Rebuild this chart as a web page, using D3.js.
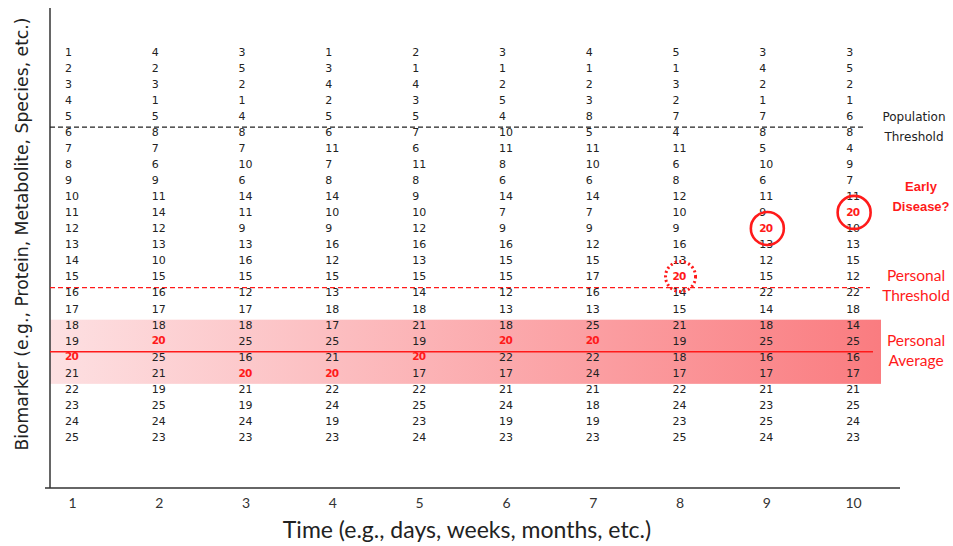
<!DOCTYPE html>
<html><head><meta charset="utf-8">
<script src="https://cdn.jsdelivr.net/npm/d3@7"></script>
<style>html,body{margin:0;padding:0;background:#fff;}</style>
</head><body>
<svg id="chart" width="953" height="546"></svg>
<script>
// ---- data ----
const timePoints = [1,2,3,4,5,6,7,8,9,10];
const col1  = [1,2,3,4,5,6,7,8,9,10,11,12,13,14,15,16,17,18,19,20,21,22,23,24,25];
const col2  = [4,2,3,1,5,8,7,6,9,11,14,12,13,10,15,16,17,18,20,25,21,19,25,24,23];
const col3  = [3,5,2,1,4,8,7,10,6,14,11,9,13,16,15,12,17,18,25,16,20,21,19,24,23];
const col4  = [1,3,4,2,5,6,11,7,8,14,10,9,16,12,15,13,18,17,25,21,20,22,24,19,23];
const col5  = [2,1,4,3,5,7,6,11,8,9,10,12,16,13,15,14,18,21,19,20,17,22,25,23,24];
const col6  = [3,1,2,5,4,10,11,8,6,14,7,9,16,15,15,12,13,18,20,22,17,21,24,19,23];
const col7  = [4,1,2,3,8,5,11,10,6,14,7,9,12,15,17,16,13,25,20,22,24,21,18,19,23];
const col8  = [5,1,3,2,7,4,11,6,8,12,10,9,16,13,20,14,15,21,19,18,17,22,24,23,25];
const col9  = [3,4,2,1,7,8,5,10,6,11,9,20,13,12,15,22,14,18,25,16,17,21,23,25,24];
const col10 = [3,5,2,1,6,8,4,9,7,11,20,10,13,15,12,22,18,14,25,16,17,21,25,24,23];
const columns = [col1,col2,col3,col4,col5,col6,col7,col8,col9,col10];
const highlightValue = 20;
const populationThreshold = 5.5;   // rank boundary
const personalThreshold = 15.5;
const personalAverage = 19.5;
const personalRange = [17.5, 21.5];
const circled = [
  {time: 8, rank: 15, style: "dotted"},
  {time: 9, rank: 12, style: "solid"},
  {time: 10, rank: 11, style: "solid"}
];
const xTickLabels = ["1","2","3","4","5","6","7","8","9","10"];
const xTitle = "Time (e.g., days, weeks, months, etc.)";
const yTitle = "Biomarker (e.g., Protein, Metabolite, Species, etc.)";

// ---- chart ----
const svg = d3.select("#chart");
const red = "#ff1a1a";
const x = d3.scaleLinear().domain([0.747, 10.54]).range([50, 900]);
const y = d3.scaleLinear().domain([1, 25]).range([55, 440]);

// gradient band
const defs = svg.append("defs");
const grad = defs.append("linearGradient").attr("id","band").attr("x1","0%").attr("x2","100%");
grad.append("stop").attr("offset","0%").attr("stop-color","#fde0e2");
grad.append("stop").attr("offset","100%").attr("stop-color","#fa7c80");
svg.append("rect")
  .attr("x", x.range()[0]).attr("width", 881 - x.range()[0])
  .attr("y", y(personalRange[0])).attr("height", y(personalRange[1]) - y(personalRange[0]))
  .attr("fill","url(#band)");

// axes
const xAxis = d3.axisBottom(x).tickValues(timePoints).tickSize(0).tickPadding(10)
  .tickFormat((d,i)=>xTickLabels[i]);
const gx = svg.append("g").attr("transform","translate(0,488)").call(xAxis);
gx.select(".domain").attr("stroke","#333").attr("stroke-width",1.5).attr("d","M45,0H900");
gx.selectAll("text").attr("font-family","Lato, 'Liberation Sans Narrow', sans-serif")
  .attr("font-size",14).attr("fill","#333");
svg.append("line").attr("x1",50).attr("x2",50).attr("y1",8).attr("y2",488)
  .attr("stroke","#333").attr("stroke-width",1.5);

// threshold lines
svg.append("line").attr("x1",50).attr("x2",866)
  .attr("y1",y(populationThreshold)).attr("y2",y(populationThreshold))
  .attr("stroke","#222").attr("stroke-width",1.3).attr("stroke-dasharray","5,3");
svg.append("line").attr("x1",50).attr("x2",870)
  .attr("y1",y(personalThreshold)).attr("y2",y(personalThreshold))
  .attr("stroke",red).attr("stroke-width",1.3).attr("stroke-dasharray","5,3");
svg.append("line").attr("x1",50).attr("x2",873)
  .attr("y1",y(personalAverage)).attr("y2",y(personalAverage))
  .attr("stroke",red).attr("stroke-width",1.6);

// numbers
const cells = [];
columns.forEach((col,ci)=>col.forEach((v,ri)=>cells.push({t:timePoints[ci], r:ri+1, v})));
svg.append("g").selectAll("text").data(cells).join("text")
  .attr("x", d=>x(d.t) - 7)
  .attr("y", d=>y(d.r) - 3)
  .attr("dy","0.35em")
  .attr("font-family","'DejaVu Sans', Verdana, sans-serif")
  .attr("font-size", d=>d.v===highlightValue ? 10.5 : 11)
  .attr("font-weight", d=>d.v===highlightValue ? "bold" : "normal")
  .attr("letter-spacing", d=>d.v===highlightValue ? -0.8 : 0)
  .attr("fill", d=>d.v===highlightValue ? red : "#222")
  .text(d=>d.v);

// circles
svg.append("g").selectAll("circle").data(circled).join("circle")
  .attr("cx", d=>x(d.time) + 1)
  .attr("cy", d=>y(d.rank) - 3)
  .attr("r", d=>d.style==="dotted" ? 15 : 16.5)
  .attr("fill","none").attr("stroke",red)
  .attr("stroke-width", d=>d.style==="dotted" ? 3 : 2.6)
  .attr("stroke-dasharray", d=>d.style==="dotted" ? "2,2.6" : null);

// right labels
function label(lines, cx, cy, color, font, size, weight){
  const t = svg.append("text").attr("text-anchor","middle")
    .attr("font-family",font).attr("font-size",size).attr("font-weight",weight||"normal")
    .attr("fill",color);
  lines.forEach((s,i)=>t.append("tspan").attr("x",cx).attr("y",cy + i*20).attr("dy","0.35em").text(s));
}
label(["Population","Threshold"], 914, 117, "#222", "'DejaVu Sans', Verdana, sans-serif", 12);
label(["Early","Disease?"], 921, 186, red, "'Liberation Sans', Arial, sans-serif", 13, "bold");
label(["Personal","Threshold"], 916, 276, red, "Lato, sans-serif", 15.5);
label(["Personal","Average"], 916, 341, red, "Lato, sans-serif", 15.5);

// axis titles
svg.append("text").attr("x", 467).attr("y", 530).attr("dy","0.35em").attr("text-anchor","middle")
  .attr("font-family","Lato, 'Liberation Sans Narrow', sans-serif").attr("font-size",23).attr("fill","#222")
  .text(xTitle);
svg.append("text").attr("transform","translate(22,234) rotate(-90)").attr("dy","0.35em")
  .attr("text-anchor","middle")
  .attr("font-family","'DejaVu Sans', Verdana, sans-serif").attr("font-size",17.2).attr("fill","#222")
  .text(yTitle);
</script>
</body></html>
